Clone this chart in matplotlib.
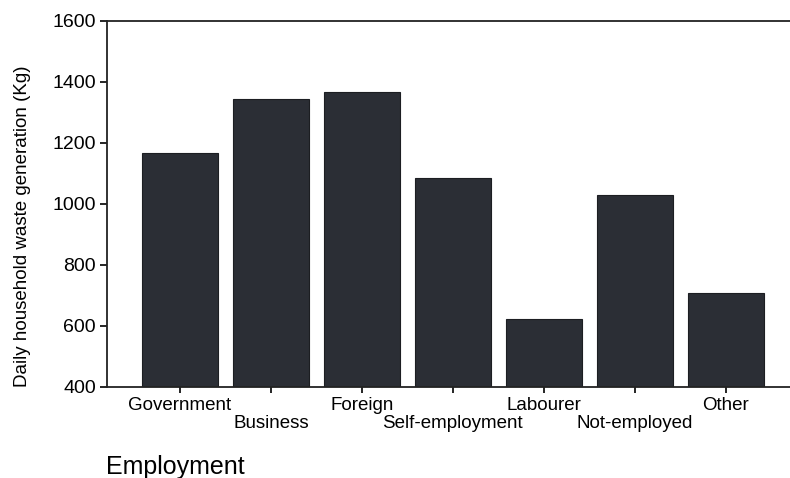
import matplotlib.pyplot as plt

categories = ["Government", "Business", "Foreign", "Self-employment",
              "Labourer", "Not-employed", "Other"]
values = [1167, 1344, 1367, 1085, 624, 1030, 709]

plt.rcParams['font.family'] = ['Liberation Sans', 'DejaVu Sans']

fig = plt.figure(figsize=(7.9, 4.78), dpi=100)
ax = fig.add_axes([0.1354, 0.1904, 0.87, 0.7663])

x = list(range(len(categories)))
ax.bar(x, values, width=0.84, color='#2b2e35', edgecolor='#1c1e22', linewidth=0.8)

ax.set_ylim(400, 1600)
ax.set_xlim(-0.8, 6.75)
ax.set_yticks(range(400, 1601, 200))
ax.tick_params(axis='y', labelsize=14, length=5, width=1.2, pad=3)

# staggered category labels: upper row on major ticks, lower row on minor ticks
upper = [i for i in x if i % 2 == 0]
lower = [i for i in x if i % 2 == 1]
ax.set_xticks(upper, [categories[i] for i in upper])
ax.set_xticks(lower, [categories[i] for i in lower], minor=True)
ax.tick_params(axis='x', which='major', labelsize=13.5, length=4, width=1.2, pad=3)
ax.tick_params(axis='x', which='minor', labelsize=13.5, length=4, width=1.2, pad=16)

ax.spines['right'].set_visible(False)
for s in ['left', 'bottom', 'top']:
    ax.spines[s].set_linewidth(1.3)
    ax.spines[s].set_color('#222222')

fig.text(0.028, 0.527, "Daily household waste generation (Kg)", rotation=90,
         ha='center', va='center', fontsize=13.5, fontstretch='condensed')
fig.text(0.134, 0.008, "Employment", ha='left', va='baseline', fontsize=18)

plt.savefig("out.png", dpi=100)
